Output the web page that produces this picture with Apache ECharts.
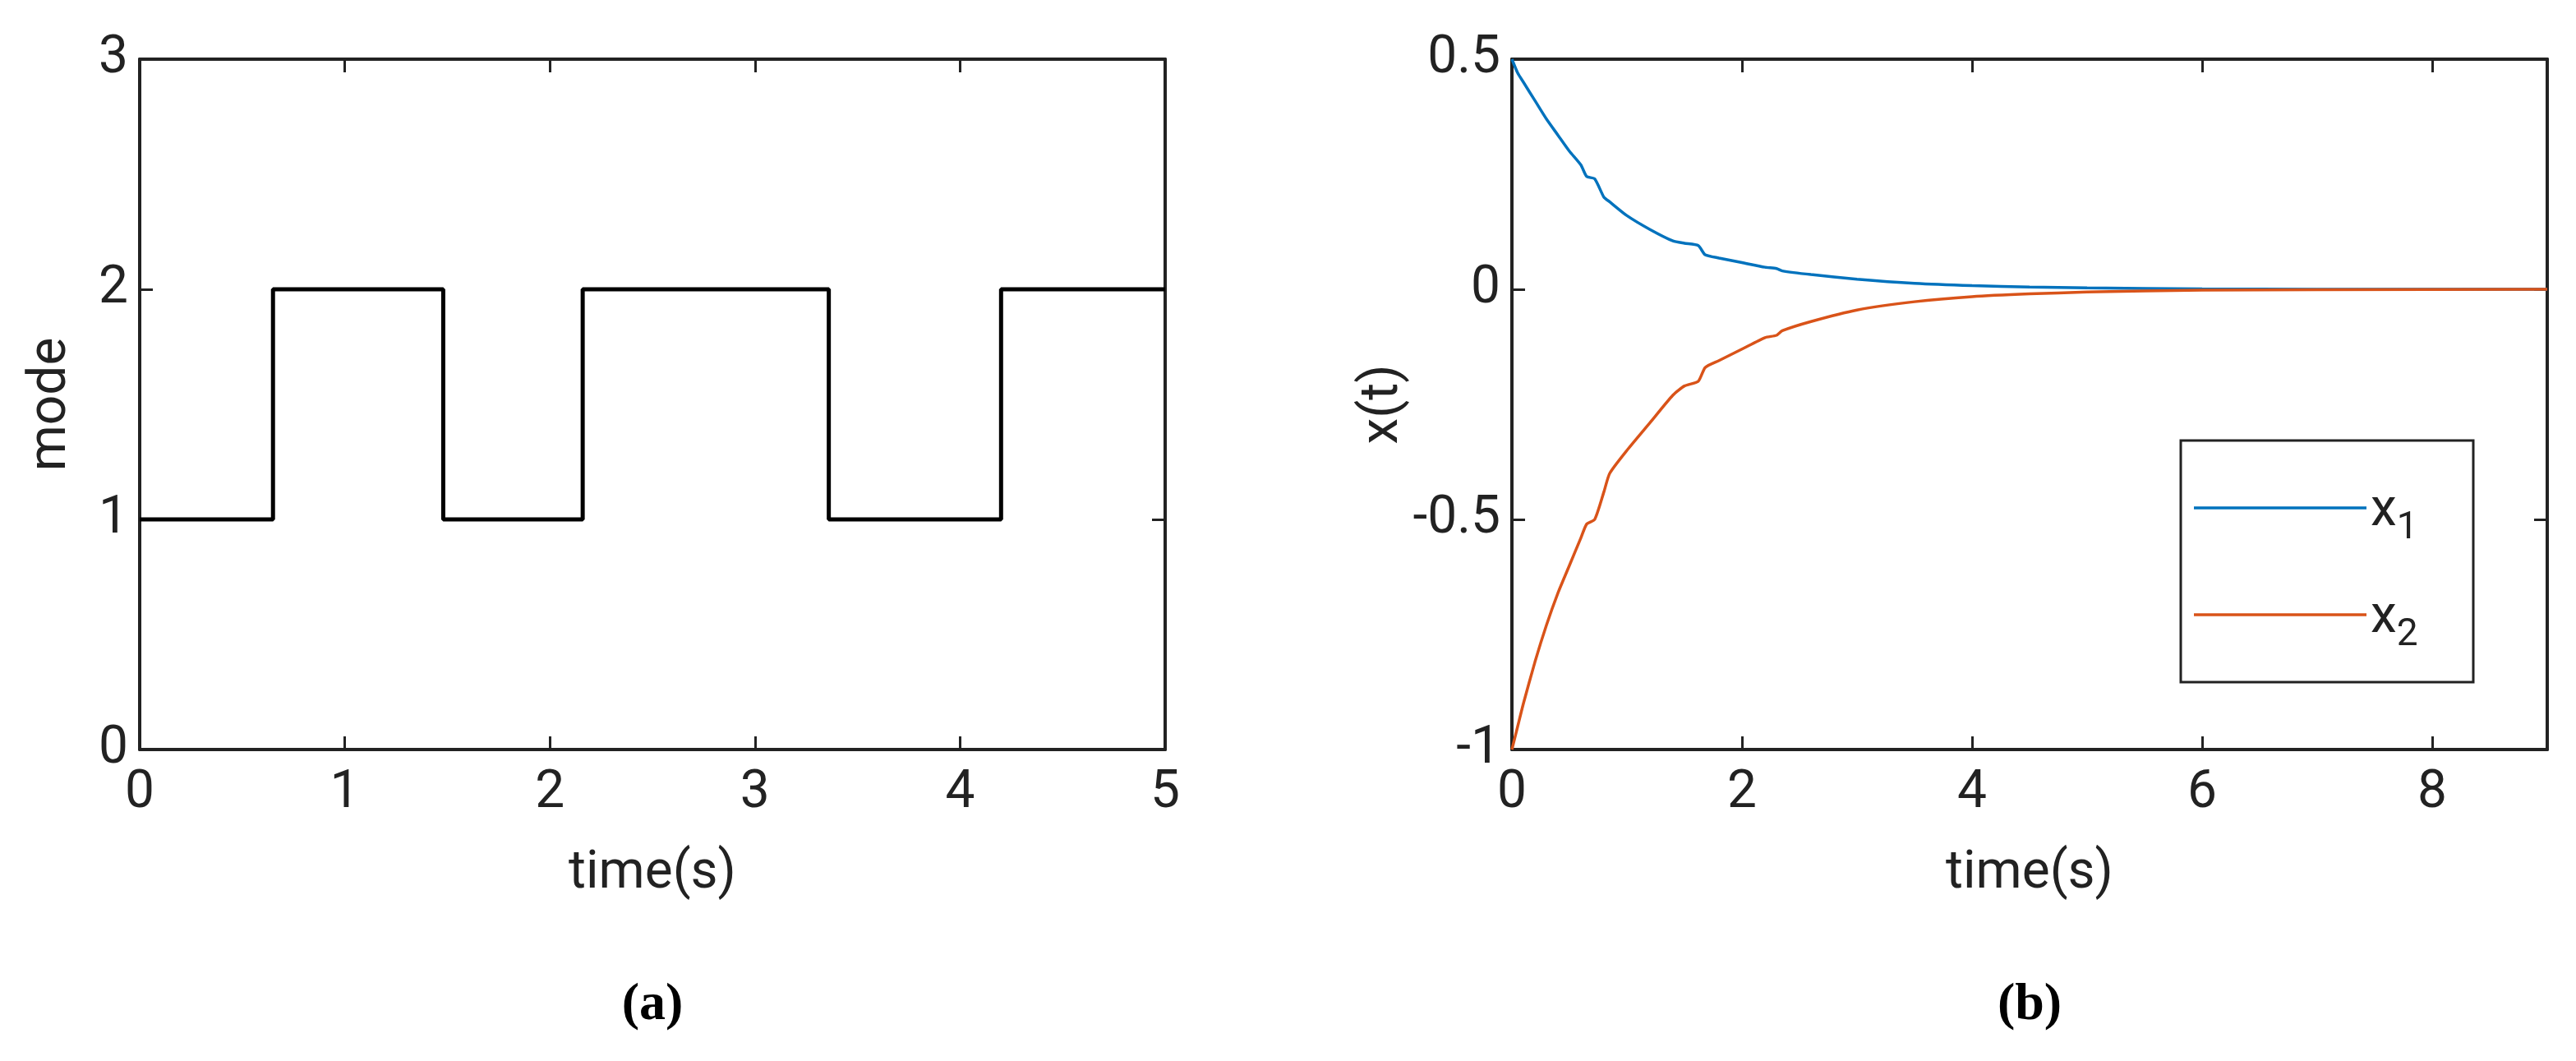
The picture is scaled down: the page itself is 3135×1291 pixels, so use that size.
<!DOCTYPE html><html><head><meta charset="utf-8"><script src="https://cdn.jsdelivr.net/npm/echarts@6/dist/echarts.min.js"></script>
<style>html,body{margin:0;background:#fff}#c{width:3135px;height:1291px}</style></head><body><div id="c"></div><script>
const modeT=[0,0.65,0.65,1.48,1.48,2.16,2.16,3.36,3.36,4.2,4.2,5];
const modeV=[1,1,2,2,1,1,2,2,1,1,2,2];
const tB=[0,0.05,0.1,0.2,0.3,0.4,0.5,0.6,0.65,0.72,0.8,0.85,1.0,1.2,1.4,1.5,1.62,1.68,1.8,2.0,2.2,2.3,2.35,2.6,3,3.5,4,4.5,5,6,7,9];
const x1=[0.5,0.47,0.45,0.41,0.37,0.335,0.3,0.27,0.245,0.24,0.2,0.19,0.16,0.13,0.105,0.1,0.095,0.075,0.068,0.058,0.048,0.045,0.04,0.032,0.022,0.013,0.008,0.005,0.003,0.001,0,0];
const x2=[-1,-0.95,-0.9,-0.81,-0.73,-0.66,-0.6,-0.54,-0.51,-0.5,-0.44,-0.4,-0.35,-0.29,-0.23,-0.21,-0.2,-0.17,-0.155,-0.13,-0.105,-0.1,-0.09,-0.07,-0.045,-0.027,-0.016,-0.01,-0.006,-0.002,-0.001,0];
const F='Roboto';
function ax(type,pos,gi,min,max,iv,show,name){return {type:'value',gridIndex:gi,position:pos,min,max,interval:iv,axisLine:{show:true,onZero:false,lineStyle:{color:'#222',width:4}},
 axisTick:{show:true,inside:true,length:16,lineStyle:{color:'#222',width:3}},splitLine:{show:false},
 axisLabel:{show:show,fontFamily:F,fontSize:64,color:'#222',margin:show&&type==='x'?22:14,showMaxLabel:!(type==='x'&&gi===1)},name:name||'',nameLocation:'middle',
 nameGap:type==='x'?120:(gi===0?75:100),nameTextStyle:{fontFamily:F,fontSize:64,color:'#222'}}}
const chart=echarts.init(document.getElementById('c'));
chart.setOption({animation:false,
grid:[{left:170,top:72,width:1248,height:840},{left:1840,top:72,width:1260,height:840}],
xAxis:[ax('x','bottom',0,0,5,1,true,'time(s)'),ax('x','top',0,0,5,1,false),ax('x','bottom',1,0,9,2,true,'time(s)'),ax('x','top',1,0,9,2,false)],
yAxis:[ax('y','left',0,0,3,1,true,'mode'),ax('y','right',0,0,3,1,false),ax('y','left',1,-1,0.5,0.5,true,'x(t)'),ax('y','right',1,-1,0.5,0.5,false)],
series:[
{type:'line',xAxisIndex:0,yAxisIndex:0,showSymbol:false,data:modeT.map((t,i)=>[t,modeV[i]]),lineStyle:{color:'#000',width:5}},
{type:'line',xAxisIndex:2,yAxisIndex:2,showSymbol:false,smooth:0.2,data:tB.map((t,i)=>[t,x1[i]]),lineStyle:{color:'#0072BD',width:3.5}},
{type:'line',xAxisIndex:2,yAxisIndex:2,showSymbol:false,smooth:0.2,data:tB.map((t,i)=>[t,x2[i]]),lineStyle:{color:'#D95319',width:3.5}}],
graphic:[
{type:'rect',shape:{x:2654,y:536,width:356,height:294},style:{fill:'#fff',stroke:'#222',lineWidth:3}},
{type:'line',shape:{x1:2670,y1:618,x2:2880,y2:618},style:{stroke:'#0072BD',lineWidth:3.5}},
{type:'line',shape:{x1:2670,y1:748,x2:2880,y2:748},style:{stroke:'#D95319',lineWidth:3.5}},
{type:'text',x:2885,y:580,style:{text:'{a|x}{b|1}',rich:{a:{fontFamily:F,fontSize:64,fill:'#222'},b:{fontFamily:F,fontSize:46,fill:'#222',padding:[40,0,0,0]}}}},
{type:'text',x:2885,y:710,style:{text:'{a|x}{b|2}',rich:{a:{fontFamily:F,fontSize:64,fill:'#222'},b:{fontFamily:F,fontSize:46,fill:'#222',padding:[40,0,0,0]}}}},
{type:'text',x:794,y:1223,style:{text:'(a)',fontFamily:'Liberation Serif',fontWeight:'bold',fontSize:64,fill:'#000',align:'center',verticalAlign:'middle'}},
{type:'text',x:2470,y:1223,style:{text:'(b)',fontFamily:'Liberation Serif',fontWeight:'bold',fontSize:64,fill:'#000',align:'center',verticalAlign:'middle'}}
]});
</script></body></html>
